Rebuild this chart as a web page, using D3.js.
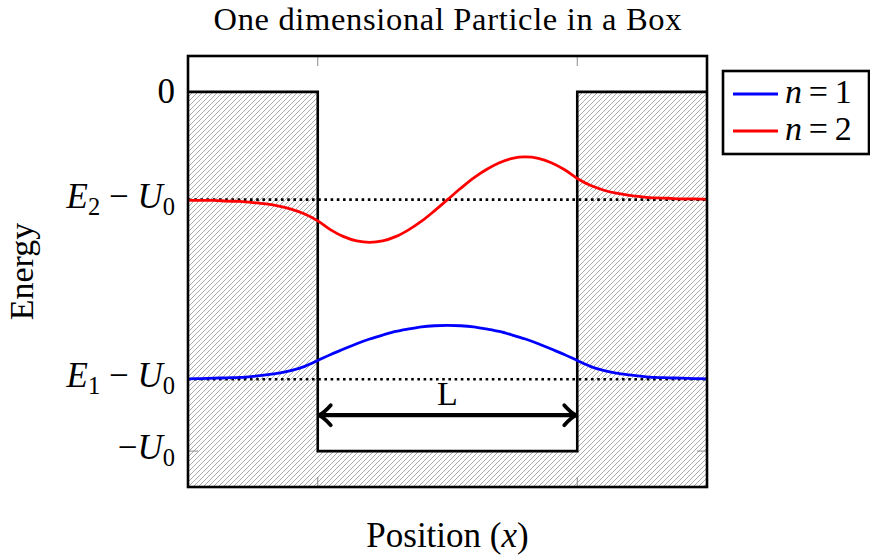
<!DOCTYPE html>
<html><head><meta charset="utf-8">
<script src="https://cdn.jsdelivr.net/npm/d3@7"></script>
<style>body{margin:0;background:#fff}svg{display:block}</style>
</head><body>
<script>
// ---- data ----
const xs = [-1,-0.95,-0.9,-0.85,-0.8,-0.75,-0.7,-0.65,-0.6,-0.55,-0.5,-0.45,-0.4,-0.35,-0.3,-0.25,-0.2,-0.15,-0.1,-0.05,0,0.05,0.1,0.15,0.2,0.25,0.3,0.35,0.4,0.45,0.5,0.55,0.6,0.65,0.7,0.75,0.8,0.85,0.9,0.95,1];
const blueN1 = [-0.799,-0.798,-0.797,-0.796,-0.795,-0.792,-0.788,-0.783,-0.775,-0.764,-0.748,-0.731,-0.716,-0.701,-0.688,-0.677,-0.667,-0.660,-0.654,-0.651,-0.650,-0.651,-0.654,-0.660,-0.667,-0.677,-0.688,-0.701,-0.716,-0.731,-0.748,-0.764,-0.775,-0.783,-0.788,-0.792,-0.795,-0.796,-0.797,-0.798,-0.799];
const redN2 = [-0.301,-0.302,-0.302,-0.304,-0.305,-0.308,-0.312,-0.318,-0.327,-0.340,-0.359,-0.384,-0.403,-0.415,-0.419,-0.415,-0.403,-0.384,-0.360,-0.331,-0.300,-0.269,-0.240,-0.216,-0.197,-0.185,-0.181,-0.185,-0.197,-0.216,-0.241,-0.260,-0.273,-0.282,-0.288,-0.292,-0.295,-0.296,-0.298,-0.298,-0.299];
const wellX = [-1,-0.5,-0.5,0.5,0.5,1];
const wellY = [0,0,-1,-1,0,0];
const levels = [-0.3,-0.8];
const xTickValues = [-0.5,0.5];
const yTickValues = [0,-0.3,-0.8,-1];
const yTickLabels = [
  [{t:"0"}],
  [{t:"E",i:1},{t:"2",s:1},{t:" − "},{t:"U",i:1},{t:"0",s:1}],
  [{t:"E",i:1},{t:"1",s:1},{t:" − "},{t:"U",i:1},{t:"0",s:1}],
  [{t:"−"},{t:"U",i:1},{t:"0",s:1}]
];
const arrowY = -0.9;
const seriesNames = ["n = 1","n = 2"];
const seriesColors = ["#0000ff","#ff0000"];

// ---- layout ----
const W=870,H=556;
const FONT="'Liberation Serif','DejaVu Serif',serif";
const m={l:188,r:707,t:56,b:487};
const x=d3.scaleLinear().domain([-1,1]).range([m.l,m.r]);
const y=d3.scaleLinear().domain([-1.1,0.1]).range([m.b,m.t]);

const svg=d3.select("body").append("svg").attr("width",W).attr("height",H).attr("font-family",FONT);
const defs=svg.append("defs");
const pat=defs.append("pattern").attr("id","hatch").attr("patternUnits","userSpaceOnUse")
  .attr("width",5).attr("height",5);
pat.append("path").attr("d","M0,5 L5,0 M-1.25,1.25 L1.25,-1.25 M3.75,6.25 L6.25,3.75")
  .attr("stroke","#858585").attr("stroke-width",0.7);

// hatched regions (outside well)
const hatchPts = [[-1,0],[-0.5,0],[-0.5,-1],[0.5,-1],[0.5,0],[1,0],[1,-1.1],[-1,-1.1]];
svg.append("path").attr("d",d3.line().x(d=>x(d[0])).y(d=>y(d[1]))(hatchPts)+"Z")
  .attr("fill","url(#hatch)").attr("stroke","none");

// ticks (grey, inward)
const tl=10;
xTickValues.forEach(v=>{
  svg.append("line").attr("x1",x(v)).attr("x2",x(v)).attr("y1",m.t).attr("y2",m.t+tl).attr("stroke","#8a8a8a").attr("stroke-width",1);
  svg.append("line").attr("x1",x(v)).attr("x2",x(v)).attr("y1",m.b).attr("y2",m.b-tl).attr("stroke","#8a8a8a").attr("stroke-width",1);
});
yTickValues.forEach(v=>{
  svg.append("line").attr("x1",m.l).attr("x2",m.l+tl).attr("y1",y(v)).attr("y2",y(v)).attr("stroke","#8a8a8a").attr("stroke-width",1);
  svg.append("line").attr("x1",m.r).attr("x2",m.r-tl).attr("y1",y(v)).attr("y2",y(v)).attr("stroke","#8a8a8a").attr("stroke-width",1);
});

// well outline
svg.append("path").attr("d",d3.line().x((d,i)=>x(wellX[i])).y((d,i)=>y(wellY[i]))(wellX))
  .attr("fill","none").attr("stroke","#000").attr("stroke-width",2.6);

// energy levels dotted
levels.forEach(v=>{
  svg.append("line").attr("x1",m.l).attr("x2",m.r).attr("y1",y(v)).attr("y2",y(v))
    .attr("stroke","#000").attr("stroke-width",2.6).attr("stroke-dasharray","2.6 3.6");
});

// curves
const line=d3.line().x((d,i)=>x(xs[i])).y(d=>y(d)).curve(d3.curveCatmullRom.alpha(0.5));
[blueN1,redN2].forEach((s,k)=>{
  svg.append("path").attr("d",line(s)).attr("fill","none").attr("stroke",seriesColors[k]).attr("stroke-width",2.8);
});

// L arrow
const ay=y(arrowY), ax1=x(-0.5), ax2=x(0.5);
svg.append("line").attr("x1",ax1+2).attr("x2",ax2-2).attr("y1",ay).attr("y2",ay).attr("stroke","#000").attr("stroke-width",4.2);
svg.append("path").attr("d",`M${ax1+13},${ay-10} Q${ax1+6},${ay-2} ${ax1+1},${ay} Q${ax1+6},${ay+2} ${ax1+13},${ay+10}`)
  .attr("fill","none").attr("stroke","#000").attr("stroke-width",3.8).attr("stroke-linecap","round").attr("stroke-linejoin","round");
svg.append("path").attr("d",`M${ax2-13},${ay-10} Q${ax2-6},${ay-2} ${ax2-1},${ay} Q${ax2-6},${ay+2} ${ax2-13},${ay+10}`)
  .attr("fill","none").attr("stroke","#000").attr("stroke-width",3.8).attr("stroke-linecap","round").attr("stroke-linejoin","round");
svg.append("text").attr("x",(ax1+ax2)/2).attr("y",ay-10).attr("text-anchor","middle").attr("font-size",34).text("L");

// frame
svg.append("rect").attr("x",m.l).attr("y",m.t).attr("width",m.r-m.l).attr("height",m.b-m.t)
  .attr("fill","none").attr("stroke","#000").attr("stroke-width",2.6);

// math text helper
function mathText(sel,parts){
  parts.forEach((p,j)=>{
    const ts=sel.append("tspan").text(p.t);
    if(p.i) ts.attr("font-style","italic");
    if(p.s){ts.attr("font-size","0.7em").attr("dy",7);}
    else if(j>0 && parts[j-1].s){ts.attr("dy",-7);}
  });
}

// y tick labels
yTickValues.forEach((v,i)=>{
  const t=svg.append("text").attr("x",175).attr("y",y(v)+(i===0?11:8)).attr("text-anchor","end").attr("font-size",35);
  mathText(t,yTickLabels[i]);
});

// title & axis labels
svg.append("text").attr("x",(m.l+m.r)/2).attr("y",30).attr("text-anchor","middle").attr("font-size",32.5)
  .attr("textLength",468).attr("lengthAdjust","spacing").text("One dimensional Particle in a Box");
const xl=svg.append("text").attr("x",(m.l+m.r)/2).attr("y",547).attr("text-anchor","middle").attr("font-size",35);
mathText(xl,[{t:"Position ("},{t:"x",i:1},{t:")"}]);
svg.append("text").attr("transform",`translate(33,${(m.t+m.b)/2}) rotate(-90)`).attr("text-anchor","middle").attr("font-size",34).text("Energy");

// legend
const lg=svg.append("g");
lg.append("rect").attr("x",723).attr("y",71).attr("width",146).attr("height",83).attr("fill","#fff").attr("stroke","#000").attr("stroke-width",2.6);
seriesNames.forEach((n,i)=>{
  const ly=94+i*37;
  lg.append("line").attr("x1",733).attr("x2",778).attr("y1",ly).attr("y2",ly).attr("stroke",seriesColors[i]).attr("stroke-width",2.8);
  const t=lg.append("text").attr("x",785).attr("y",ly+9).attr("font-size",34);
  const parts=n.split(" ");
  mathText(t,[{t:parts[0],i:1},{t:"\u2009"+parts[1]+"\u2009"+parts[2]}]);
});
</script>
</body></html>
